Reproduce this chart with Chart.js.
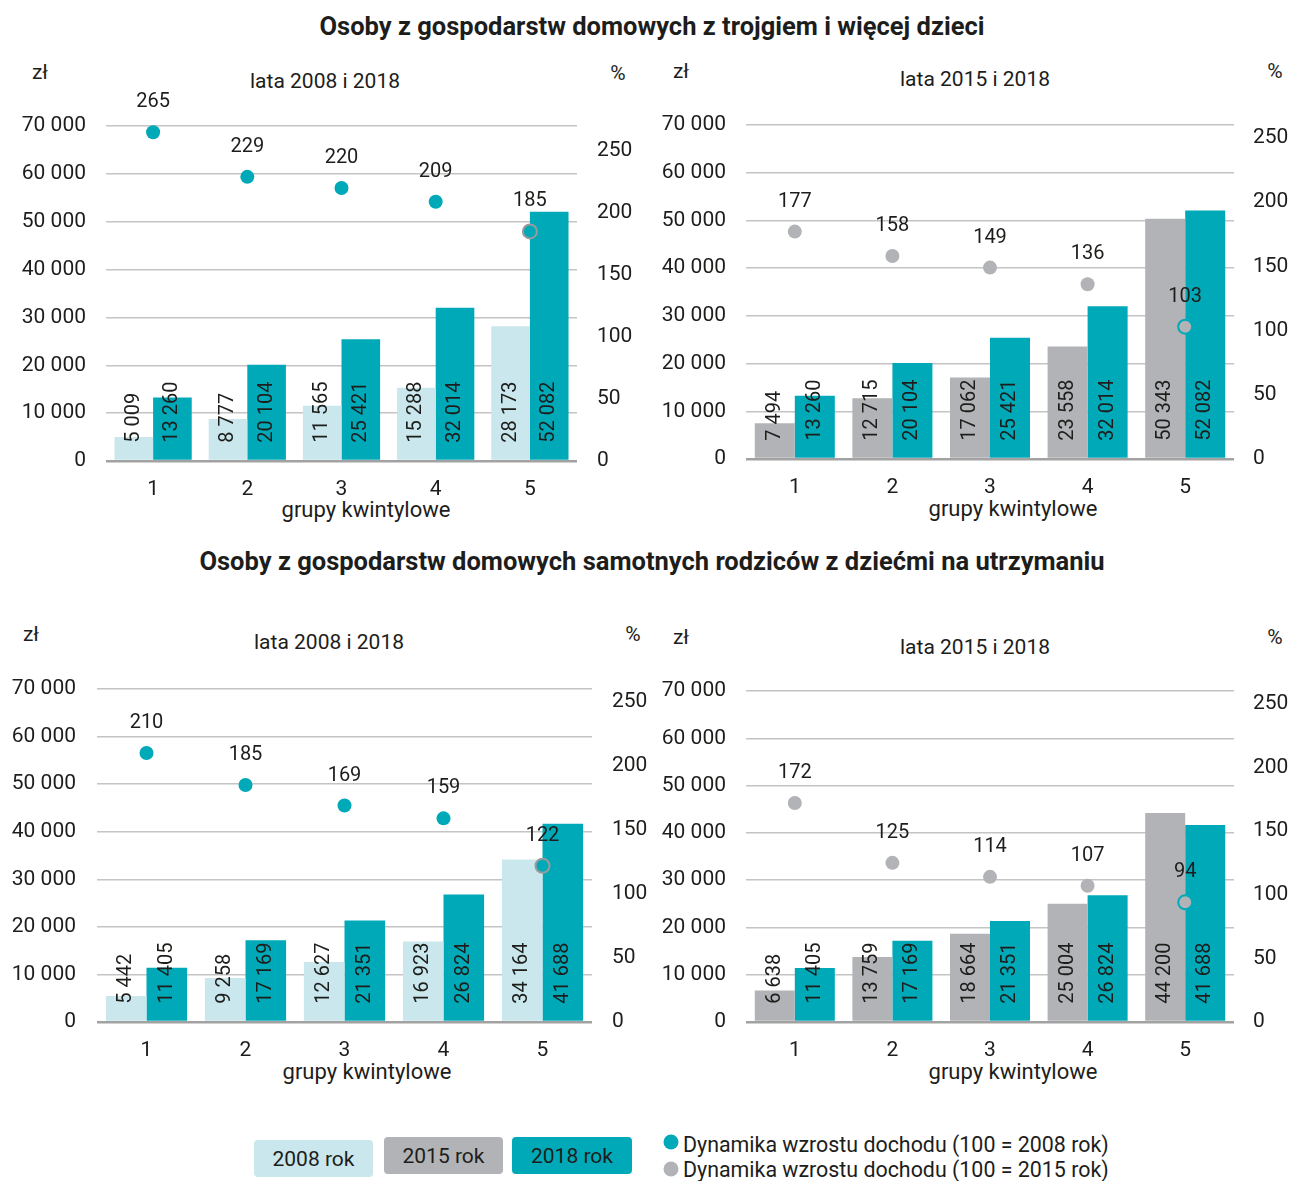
<!DOCTYPE html>
<html lang="pl">
<head>
<meta charset="utf-8">
<title>Dynamika dochodu</title>
<script src="https://cdn.jsdelivr.net/npm/chart.js@4.4.1/dist/chart.umd.min.js"></script>
<style>
  body { margin: 0; background: #fff; font-family: Roboto, sans-serif; color: #1d1d1b; }
  #page { position: relative; width: 1289px; height: 1181px; overflow: hidden; }
  canvas { position: absolute; }
  .txt { position: absolute; white-space: nowrap; transform: translate(-50%, -50%); font-size: 21px; line-height: 1.2; }
  .axis-title { font-size: 22px; }
  .main-title { font-weight: 700; font-size: 25.5px; }
  .lg-box { position: absolute; border-radius: 4px; font-size: 21px; display: flex; align-items: center; justify-content: center; }
  .lg-dot { position: absolute; width: 15px; height: 15px; border-radius: 50%; transform: translate(-50%, -50%); }
  .lg-txt { position: absolute; font-size: 21.4px; white-space: nowrap; transform: translateY(-50%); line-height: 1.2; }
</style>
</head>
<body>
<div id="page">
  <div class="txt main-title" style="left:652px;top:26px">Osoby z gospodarstw domowych z trojgiem i więcej dzieci</div>
  <div class="txt main-title" style="left:652px;top:561px">Osoby z gospodarstw domowych samotnych rodziców z dziećmi na utrzymaniu</div>

  <div class="txt" style="left:325px;top:82px">lata 2008 i 2018</div>
  <div class="txt" style="left:975px;top:80px">lata 2015 i 2018</div>
  <div class="txt" style="left:329px;top:643px">lata 2008 i 2018</div>
  <div class="txt" style="left:975px;top:648px">lata 2015 i 2018</div>

  <div class="txt" style="left:40px;top:73px">zł</div>
  <div class="txt" style="left:681px;top:72px">zł</div>
  <div class="txt" style="left:31px;top:635px">zł</div>
  <div class="txt" style="left:681px;top:638px">zł</div>

  <div class="txt" style="left:618px;top:74px">%</div>
  <div class="txt" style="left:1275px;top:72px">%</div>
  <div class="txt" style="left:633px;top:635px">%</div>
  <div class="txt" style="left:1275px;top:638px">%</div>

  <div class="txt axis-title" style="left:366px;top:510px">grupy kwintylowe</div>
  <div class="txt axis-title" style="left:1013px;top:509px">grupy kwintylowe</div>
  <div class="txt axis-title" style="left:367px;top:1072px">grupy kwintylowe</div>
  <div class="txt axis-title" style="left:1013px;top:1072px">grupy kwintylowe</div>

  <canvas id="c1"></canvas>
  <canvas id="c2"></canvas>
  <canvas id="c3"></canvas>
  <canvas id="c4"></canvas>

  <div class="lg-box" style="left:254px;top:1140px;width:119px;height:37px;background:#c9e7ec">2008 rok</div>
  <div class="lg-box" style="left:384px;top:1137px;width:119px;height:37px;background:#b2b3b6">2015 rok</div>
  <div class="lg-box" style="left:512px;top:1137px;width:120px;height:37px;background:#00a9b7">2018 rok</div>
  <div class="lg-dot" style="left:671px;top:1142px;background:#00a9b7"></div>
  <div class="lg-dot" style="left:671px;top:1169px;background:#b2b3b6"></div>
  <div class="lg-txt" style="left:683px;top:1145px">Dynamika wzrostu dochodu (100 = 2008 rok)</div>
  <div class="lg-txt" style="left:683px;top:1170px">Dynamika wzrostu dochodu (100 = 2015 rok)</div>
</div>

<script>
  'use strict';

  const quintiles = ['1', '2', '3', '4', '5'];

  // gospodarstwa z trojgiem i więcej dzieci (zł)
  const threeKids2008 = [5009, 8777, 11565, 15288, 28173];
  const threeKids2015 = [7494, 12715, 17062, 23558, 50343];
  const threeKids2018 = [13260, 20104, 25421, 32014, 52082];
  const threeKidsDyn2008 = [265, 229, 220, 209, 185];
  const threeKidsDyn2015 = [177, 158, 149, 136, 103];

  // samotni rodzice z dziećmi na utrzymaniu (zł)
  const single2008 = [5442, 9258, 12627, 16923, 34164];
  const single2015 = [6638, 13759, 18664, 25004, 44200];
  const single2018 = [11405, 17169, 21351, 26824, 41688];
  const singleDyn2008 = [210, 185, 169, 159, 122];
  const singleDyn2015 = [172, 125, 114, 107, 94];

  // tick labels
  const zlTicks = [0, 10000, 20000, 30000, 40000, 50000, 60000, 70000];
  const pctTicks = [0, 50, 100, 150, 200, 250];

  const textColor = '#1d1d1b';
  const color2008 = '#c9e7ec';
  const color2015 = '#b2b3b6';
  const color2018 = '#00a9b7';
  const ringGrey = '#9a9a9a';

  Chart.defaults.font.family = 'Roboto';
  Chart.defaults.color = textColor;

  function fmt(v) {
    return String(v).replace(/\B(?=(\d{3})+(?!\d))/g, ' ');
  }

  // values on the bars (rotated) and above the dots
  const valueLabels = {
    id: 'valueLabels',
    afterDatasetsDraw(chart) {
      const ctx = chart.ctx;
      ctx.save();
      ctx.fillStyle = textColor;
      ctx.font = '20px Roboto';
      chart.data.datasets.forEach((ds, i) => {
        const meta = chart.getDatasetMeta(i);
        meta.data.forEach((el, j) => {
          const label = fmt(ds.data[j]);
          if (ds.type === 'line') {
            ctx.textAlign = 'center';
            ctx.textBaseline = 'middle';
            ctx.fillText(label, el.x, el.y - 30);
          } else {
            ctx.save();
            ctx.translate(el.x, el.base - 17);
            ctx.rotate(-Math.PI / 2);
            ctx.textAlign = 'left';
            ctx.textBaseline = 'middle';
            ctx.fillText(label, 0, 0);
            ctx.restore();
          }
        });
      });
      ctx.restore();
    }
  };

  function makeChart(id, box, base, baseColor, dyn, dynColor, ringColor, pctMax) {
    const canvas = document.getElementById(id);
    const top = box.t - 50;
    const height = box.b + 40 - top;
    canvas.width = box.w;
    canvas.height = height;
    canvas.style.left = box.x + 'px';
    canvas.style.top = top + 'px';

    const dotFill = dyn.map(() => dynColor);
    const dotBorder = dyn.map((v, i) => i === dyn.length - 1 ? ringColor : dynColor);
    const dotBorderWidth = dyn.map((v, i) => i === dyn.length - 1 ? 2 : 0);

    return new Chart(canvas, {
      type: 'bar',
      data: {
        labels: quintiles,
        datasets: [
          {
            type: 'line',
            data: dyn,
            yAxisID: 'y1',
            showLine: false,
            order: -1,
            clip: false,
            pointRadius: 7,
            pointBackgroundColor: dotFill,
            pointBorderColor: dotBorder,
            pointBorderWidth: dotBorderWidth
          },
          {
            data: base.data,
            backgroundColor: baseColor,
            yAxisID: 'y',
            barPercentage: 1,
            categoryPercentage: 0.82
          },
          {
            data: base.data2018,
            backgroundColor: color2018,
            yAxisID: 'y',
            barPercentage: 1,
            categoryPercentage: 0.82
          }
        ]
      },
      options: {
        responsive: false,
        animation: false,
        layout: { padding: { top: box.t - top, left: 0, right: 0, bottom: 0 } },
        plugins: {
          legend: { display: false },
          title: { display: false },
          tooltip: { enabled: false }
        },
        scales: {
          x: {
            grid: { display: false, drawTicks: false },
            border: { display: false },
            ticks: { font: { size: 21 }, padding: 16, color: textColor },
            afterFit: (scale) => { scale.height = top + height - box.b; }
          },
          y: {
            position: 'left',
            min: 0,
            max: zlTicks[zlTicks.length - 1],
            ticks: { font: { size: 21 }, padding: box.lpad, color: textColor, callback: (v) => fmt(v) },
            grid: {
              drawTicks: false,
              color: (c) => c.tick && c.tick.value === 0 ? '#a2a2a2' : '#c4c4c4',
              lineWidth: (c) => c.tick && c.tick.value === 0 ? 2.5 : 1.5
            },
            border: { display: false },
            afterBuildTicks: (scale) => { scale.ticks = zlTicks.map(v => ({ value: v })); },
            afterFit: (scale) => { scale.width = box.l - box.x; }
          },
          y1: {
            position: 'right',
            min: 0,
            max: pctMax,
            ticks: { font: { size: 21 }, padding: box.rpad, color: textColor },
            grid: { drawOnChartArea: false, drawTicks: false },
            border: { display: false },
            afterBuildTicks: (scale) => { scale.ticks = pctTicks.map(v => ({ value: v })); },
            afterFit: (scale) => { scale.width = box.x + box.w - box.r; }
          }
        }
      },
      plugins: [valueLabels]
    });
  }

  makeChart('c1', { x: 0, w: 650, l: 106, r: 577, t: 126, b: 461, lpad: 20, rpad: 20 },
    { data: threeKids2008, data2018: threeKids2018 }, color2008,
    threeKidsDyn2008, color2018, ringGrey, 270);

  makeChart('c2', { x: 640, w: 649, l: 746, r: 1234, t: 125, b: 459, lpad: 20, rpad: 19 },
    { data: threeKids2015, data2018: threeKids2018 }, color2015,
    threeKidsDyn2015, color2015, color2018, 260);

  makeChart('c3', { x: 0, w: 665, l: 97, r: 592, t: 689, b: 1022, lpad: 21, rpad: 20 },
    { data: single2008, data2018: single2018 }, color2008,
    singleDyn2008, color2018, ringGrey, 260);

  makeChart('c4', { x: 640, w: 649, l: 746, r: 1234, t: 691, b: 1022, lpad: 20, rpad: 19 },
    { data: single2015, data2018: single2018 }, color2015,
    singleDyn2015, color2015, color2018, 260);
</script>
</body>
</html>
